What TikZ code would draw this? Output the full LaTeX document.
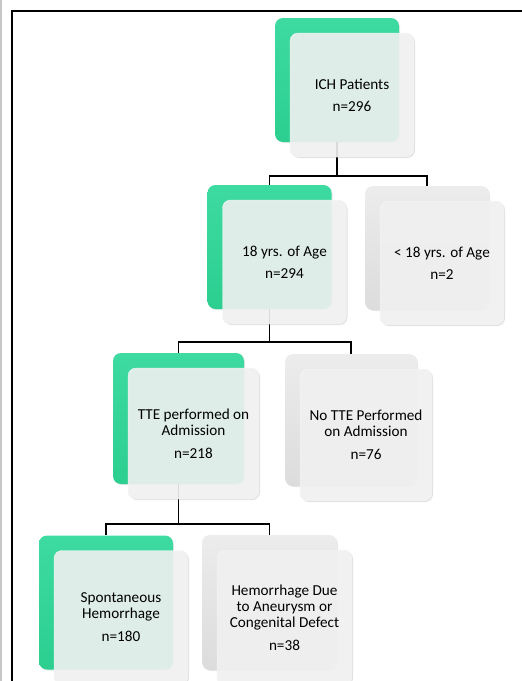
\documentclass[tikz,border=0pt]{standalone}
\usepackage{fontspec}
\setmainfont{Carlito}
\usetikzlibrary{positioning,shadows}
\definecolor{sagreen}{HTML}{2CCF90}
\definecolor{sagreentop}{HTML}{3DDAA1}
\definecolor{sagray}{HTML}{DCDCDC}
\definecolor{sagraytop}{HTML}{ECECEC}
\definecolor{safront}{HTML}{F4F4F4}
\tikzset{
    back/.style={
    rectangle,rounded corners=8pt,inner sep=0pt,minimum width=#1,minimum height=#1,
    drop shadow={opacity=0.18,shadow xshift=1pt,shadow yshift=-1pt}
    },
    greenbox/.style={
    back=#1,top color=sagreentop,bottom color=sagreen
    },
    graybox/.style={
    back=#1,top color=sagraytop,bottom color=sagray
    },
    front/.style={
    rectangle,rounded corners=8pt,inner sep=0pt,minimum width=#1,minimum height=#1,
    fill=safront,fill opacity=0.88,text opacity=1,draw=black!6,
    drop shadow={opacity=0.25,shadow xshift=1pt,shadow yshift=-1pt},
    align=center,font=\fontsize{15.2}{16}\selectfont,xshift=15pt,yshift=-15pt
    },
    link/.style={
    draw=black,line width=1.8pt
    },
}
\begin{document}
\begin{tikzpicture}[x=1pt,y=-1pt]
   \useasboundingbox (0,0) rectangle (522,681);
   \clip (0,0) rectangle (522,681);
   \draw[black!22,line width=1.5pt] (1,0) -- (1,681);
   \draw[line width=1.2pt] (12,681) -- (12,11) -- (522,11);

   \node[greenbox=124pt] (ich-b) at (337,80) {};
   \node[greenbox=124pt] (adult-b) at (269.5,247) {};
   \node[graybox=124pt] (minor-b) at (427,248) {};
   \node[greenbox=131pt] (tte-b) at (178.5,418.5) {};
   \node[graybox=132pt] (notte-b) at (351,420) {};
   \node[greenbox=134pt] (spont-b) at (106,602.5) {};
   \node[graybox=135pt] (aneur-b) at (269.5,602.5) {};

   \draw[link] (ich-b.south) -- ++(0,34) coordinate (j1) -| (adult-b.north);
   \draw[link] (j1) -| (minor-b.north);
   \draw[link] (adult-b.south) -- ++(0,33) coordinate (j2) -| (tte-b.north);
   \draw[link] (j2) -| (notte-b.north);
   \draw[link] (tte-b.south) -- ++(0,40) coordinate (j3) -| (spont-b.north);
   \draw[link] (j3) -| (aneur-b.north);

   \node[front=124pt] (ich) at (ich-b) {ICH Patients\\[6pt] n=296};
   \node[front=124pt] (adult) at (adult-b) {18 yrs. of Age\\[6pt] n=294};
   \node[front=124pt] (minor) at (minor-b) {< 18 yrs. of Age\\[6pt] n=2};
   \node[front=131pt] (tte) at (tte-b) {TTE performed on\\ Admission\\[7pt] n=218};
   \node[front=132pt] (notte) at (notte-b) {No TTE Performed\\ on Admission\\[7pt] n=76};
   \node[front=134pt] (spont) at (spont-b) {Spontaneous\\ Hemorrhage\\[7pt] n=180};
   \node[front=135pt] (aneur) at (aneur-b) {Hemorrhage Due\\ to Aneurysm or\\ Congenital Defect\\[7pt] n=38};
\end{tikzpicture}
\end{document}
